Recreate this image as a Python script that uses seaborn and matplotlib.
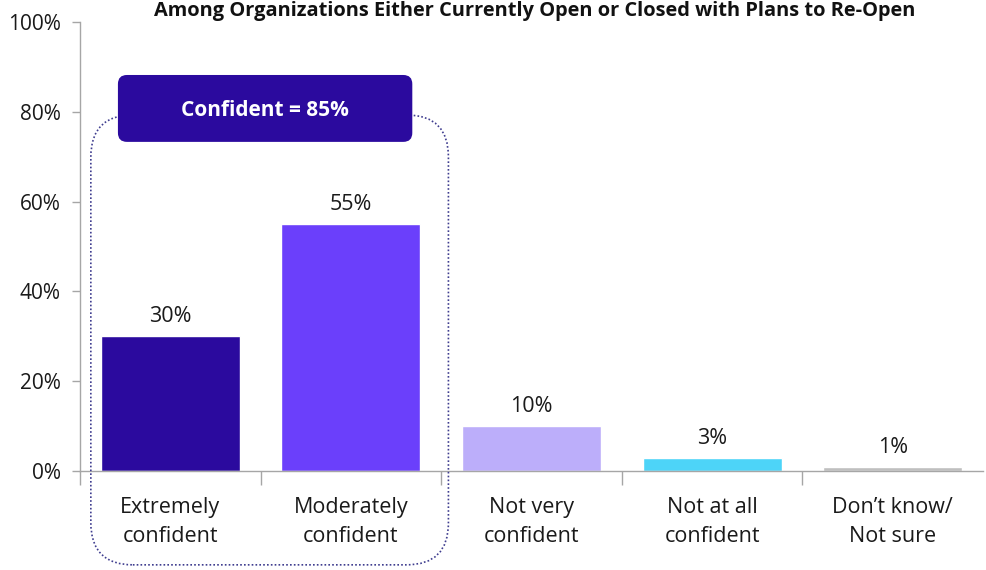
import matplotlib
matplotlib.use("Agg")
import matplotlib.pyplot as plt
from matplotlib.patches import FancyBboxPatch
from matplotlib.ticker import FixedLocator, PercentFormatter
import seaborn as sns
import pandas as pd

categories = ["Extremely\nconfident", "Moderately\nconfident", "Not very\nconfident",
              "Not at all\nconfident", "Don\u2019t know/\nNot sure"]
values = [30, 55, 10, 3, 1]
colors = ["#2B0A9E", "#6B3FFB", "#BCAEFA", "#4DD4F8", "#BFBFBF"]
title = "Among Organizations Either Currently Open or Closed with Plans to Re-Open"
summary_label = "Confident = 85%"
y_ticks = [0, 20, 40, 60, 80, 100]

sns.set_theme(style="white")
plt.rcParams["font.family"] = ["Open Sans", "DejaVu Sans"]

df = pd.DataFrame({"category": categories, "value": values})

W, H = 987, 570
fig = plt.figure(figsize=(W / 100, H / 100), dpi=100)
ax = fig.add_axes([80 / W, 1 - 471 / H, (983 - 80) / W, (471 - 22) / H])

sns.barplot(data=df, x="category", y="value", hue="category", palette=colors,
            legend=False, width=0.77, saturation=1, ax=ax)

ax.set_xlim(-0.5, len(categories) - 0.5)
ax.set_ylim(0, 100)
ax.set_xlabel("")
ax.set_ylabel("")

# value labels above each bar
for i, v in enumerate(values):
    ax.text(i, v + 2.0, f"{v}%", ha="center", va="bottom", fontsize=15.5, color="#1a1a1a")

# axes styling
for side in ["top", "right"]:
    ax.spines[side].set_visible(False)
for side in ["left", "bottom"]:
    ax.spines[side].set_color("#A6A6A6")
    ax.spines[side].set_linewidth(1.0)

ax.yaxis.set_major_locator(FixedLocator(y_ticks))
ax.yaxis.set_major_formatter(PercentFormatter(decimals=0))
ax.tick_params(axis="y", which="major", left=True, length=6, width=1, color="#A6A6A6",
               labelsize=15, labelcolor="#1a1a1a", pad=8)

ax.set_xticks(range(len(categories)))
ax.set_xticklabels(categories, fontsize=15.5, color="#1a1a1a", linespacing=1.5)
ax.tick_params(axis="x", which="major", bottom=False, length=0, pad=19)
ax.xaxis.set_minor_locator(FixedLocator([k + 0.5 for k in range(-1, len(categories) - 1)]))
ax.tick_params(axis="x", which="minor", bottom=True, length=10, width=1, color="#A6A6A6")

fig.text(535 / W, 1 - 11 / H, title, ha="center", va="center", fontsize=14.4,
         fontweight="bold", color="#111111")

# grouping outline around the two "confident" categories (drawn in pixel space)
def to_px(x, y):
    return ax.transData.transform((x, y))

x0, y0 = to_px(-0.44, -20.9)
x1, y1 = to_px(1.54, 79.3)
outline = FancyBboxPatch((x0, y0), x1 - x0, y1 - y0,
                         boxstyle="round,pad=0,rounding_size=42",
                         transform=None, fill=False, edgecolor="#3F3D8F",
                         linewidth=1.2, linestyle=(0, (1, 1.3)), clip_on=False, zorder=1)
fig.add_artist(outline)

hx0, hy0 = to_px(-0.29, 73.3)
hx1, hy1 = to_px(1.34, 88.2)
header = FancyBboxPatch((hx0, hy0), hx1 - hx0, hy1 - hy0,
                        boxstyle="round,pad=0,rounding_size=9",
                        transform=None, facecolor="#2B0A9E", edgecolor="none",
                        clip_on=False, zorder=3)
fig.add_artist(header)
fig.text((hx0 + hx1) / 2 / W, ((hy0 + hy1) / 2 - 2) / H, summary_label, ha="center",
         va="center", fontsize=15, fontweight="bold", color="white", zorder=4)

fig.savefig("out.png", dpi=100, facecolor="white")
